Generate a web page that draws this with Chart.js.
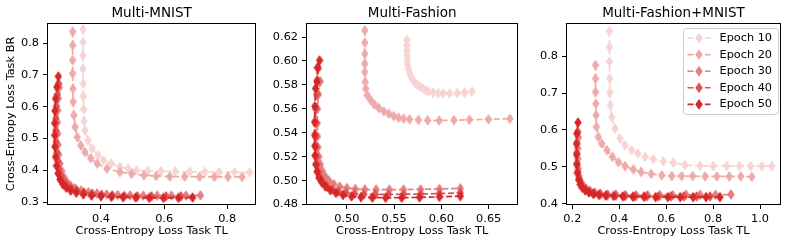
<!DOCTYPE html>
<html>
<head>
<meta charset="utf-8">
<script src="https://cdn.jsdelivr.net/npm/chart.js@4.4.1/dist/chart.umd.min.js"></script>
<style>
  body { margin: 0; background: #fff; }
  #wrap { position: relative; width: 789px; height: 245px; }
  canvas { position: absolute; top: 0; }
</style>
</head>
<body>
<div id="wrap">
  <canvas id="c1" width="262" height="245" style="left:0"></canvas>
  <canvas id="c2" width="262" height="245" style="left:262px"></canvas>
  <canvas id="c3" width="265" height="245" style="left:524px"></canvas>
</div>
<script>
const epochLabels = ['Epoch 10', 'Epoch 20', 'Epoch 30', 'Epoch 40', 'Epoch 50'];
const epochColors = ['#f7d3d3', '#efa9a9', '#e67d7e', '#de5253', '#d62728'];

// Multi-MNIST: [TL loss, BR loss]
const mnistE10 = [[0.343,0.843],[0.343,0.803],[0.343,0.761],[0.343,0.719],[0.344,0.672],[0.344,0.633],[0.345,0.591],[0.346,0.555],[0.349,0.526],[0.359,0.494],[0.372,0.468],[0.391,0.447],[0.408,0.431],[0.432,0.421],[0.460,0.410],[0.486,0.405],[0.512,0.400],[0.548,0.398],[0.590,0.397],[0.635,0.396],[0.681,0.395],[0.729,0.395],[0.774,0.394],[0.823,0.394],[0.871,0.393]];
const mnistE20 = [[0.310,0.836],[0.310,0.793],[0.310,0.746],[0.310,0.704],[0.311,0.656],[0.312,0.615],[0.314,0.573],[0.318,0.536],[0.325,0.504],[0.336,0.478],[0.349,0.457],[0.367,0.438],[0.388,0.421],[0.419,0.405],[0.460,0.394],[0.497,0.389],[0.536,0.384],[0.575,0.382],[0.618,0.380],[0.665,0.380],[0.712,0.379],[0.759,0.379],[0.802,0.379],[0.847,0.379]];
const mnistE30 = [[0.268,0.660],[0.265,0.625],[0.263,0.588],[0.262,0.551],[0.263,0.515],[0.264,0.480],[0.266,0.449],[0.270,0.421],[0.275,0.398],[0.282,0.379],[0.291,0.364],[0.303,0.352],[0.318,0.343],[0.337,0.336],[0.360,0.331],[0.387,0.327],[0.418,0.324],[0.453,0.322],[0.492,0.321],[0.534,0.320],[0.578,0.320],[0.623,0.320],[0.669,0.320],[0.715,0.321]];
const mnistE40 = [[0.266,0.672],[0.262,0.638],[0.259,0.601],[0.257,0.563],[0.257,0.525],[0.258,0.489],[0.260,0.456],[0.263,0.428],[0.267,0.403],[0.273,0.383],[0.281,0.367],[0.292,0.354],[0.306,0.344],[0.324,0.336],[0.346,0.330],[0.372,0.326],[0.402,0.323],[0.436,0.321],[0.474,0.319],[0.515,0.318],[0.560,0.318],[0.606,0.318],[0.653,0.318]];
const mnistE50 = [[0.265,0.695],[0.260,0.662],[0.256,0.625],[0.254,0.587],[0.253,0.548],[0.253,0.510],[0.254,0.474],[0.256,0.442],[0.259,0.414],[0.264,0.390],[0.270,0.371],[0.279,0.356],[0.290,0.345],[0.304,0.336],[0.322,0.329],[0.344,0.324],[0.370,0.320],[0.400,0.318],[0.433,0.316],[0.470,0.315],[0.510,0.314],[0.553,0.313],[0.598,0.313],[0.645,0.313],[0.690,0.314]];
const mnistXTicks = [0.4, 0.6, 0.8];
const mnistYTicks = [0.3, 0.4, 0.5, 0.6, 0.7, 0.8];

// Multi-Fashion
const fashionE10 = [[0.5635,0.6175],[0.5635,0.6130],[0.5635,0.6090],[0.5635,0.6050],[0.5638,0.6010],[0.5642,0.5970],[0.5650,0.5930],[0.5665,0.5895],[0.5682,0.5862],[0.5700,0.5838],[0.5722,0.5817],[0.5746,0.5800],[0.5775,0.5784],[0.5804,0.5770],[0.5832,0.5757],[0.5862,0.5746],[0.5914,0.5736],[0.5966,0.5731],[0.6018,0.5729],[0.6087,0.5729],[0.6167,0.5731],[0.6244,0.5736],[0.6324,0.5745]];
const fashionE20 = [[0.5190,0.6256],[0.5190,0.6152],[0.5190,0.6060],[0.5190,0.5977],[0.5190,0.5907],[0.5195,0.5824],[0.5200,0.5768],[0.5217,0.5713],[0.5253,0.5671],[0.5294,0.5634],[0.5339,0.5606],[0.5391,0.5579],[0.5444,0.5559],[0.5496,0.5539],[0.5548,0.5525],[0.5600,0.5517],[0.5663,0.5512],[0.5757,0.5507],[0.5854,0.5503],[0.5976,0.5502],[0.6133,0.5505],[0.6296,0.5508],[0.6498,0.5512],[0.6724,0.5517]];
const fashionE30 = [[0.4720,0.5830],[0.4700,0.5720],[0.4690,0.5600],[0.4688,0.5480],[0.4690,0.5370],[0.4695,0.5280],[0.4705,0.5200],[0.4720,0.5135],[0.4742,0.5080],[0.4772,0.5035],[0.4812,0.4998],[0.4862,0.4970],[0.4925,0.4950],[0.5000,0.4938],[0.5090,0.4930],[0.5190,0.4926],[0.5310,0.4924],[0.5450,0.4924],[0.5600,0.4925],[0.5780,0.4927],[0.5980,0.4930],[0.6200,0.4935]];
const fashionE40 = [[0.4700,0.5940],[0.4688,0.5840],[0.4680,0.5720],[0.4672,0.5600],[0.4670,0.5480],[0.4670,0.5370],[0.4673,0.5280],[0.4678,0.5200],[0.4688,0.5130],[0.4702,0.5070],[0.4722,0.5022],[0.4752,0.4982],[0.4792,0.4950],[0.4845,0.4925],[0.4910,0.4908],[0.4990,0.4897],[0.5080,0.4890],[0.5180,0.4886],[0.5300,0.4884],[0.5440,0.4884],[0.5600,0.4886],[0.5780,0.4888],[0.5980,0.4892],[0.6200,0.4897]];
const fashionE50 = [[0.4712,0.6005],[0.4690,0.5945],[0.4685,0.5825],[0.4670,0.5770],[0.4662,0.5620],[0.4660,0.5490],[0.4660,0.5380],[0.4662,0.5290],[0.4665,0.5210],[0.4672,0.5135],[0.4685,0.5075],[0.4705,0.5025],[0.4735,0.4985],[0.4775,0.4950],[0.4825,0.4920],[0.4885,0.4897],[0.4960,0.4880],[0.5050,0.4868],[0.5150,0.4862],[0.5270,0.4858],[0.5410,0.4856],[0.5580,0.4857],[0.5770,0.4860],[0.5980,0.4864],[0.6200,0.4870]];
const fashionXTicks = [0.50, 0.55, 0.60, 0.65];
const fashionYTicks = [0.48, 0.50, 0.52, 0.54, 0.56, 0.58, 0.60, 0.62];

// Multi-Fashion+MNIST
const fmE10 = [[0.358,0.868],[0.358,0.825],[0.358,0.785],[0.359,0.739],[0.360,0.701],[0.362,0.667],[0.368,0.635],[0.382,0.604],[0.403,0.576],[0.425,0.559],[0.453,0.545],[0.479,0.536],[0.510,0.527],[0.545,0.521],[0.588,0.515],[0.631,0.511],[0.680,0.505],[0.744,0.503],[0.801,0.502],[0.858,0.502],[0.912,0.502],[0.960,0.502],[1.007,0.502],[1.050,0.502]];
const fmE20 = [[0.299,0.776],[0.299,0.739],[0.299,0.703],[0.300,0.671],[0.301,0.640],[0.303,0.608],[0.311,0.581],[0.325,0.563],[0.347,0.545],[0.371,0.527],[0.396,0.513],[0.425,0.502],[0.460,0.493],[0.493,0.486],[0.536,0.481],[0.581,0.477],[0.624,0.475],[0.666,0.475],[0.713,0.475],[0.766,0.474],[0.816,0.474],[0.869,0.474],[0.918,0.474],[0.965,0.473]];
const fmE30 = [[0.226,0.580],[0.223,0.550],[0.223,0.522],[0.225,0.496],[0.229,0.475],[0.236,0.460],[0.246,0.449],[0.259,0.441],[0.275,0.435],[0.295,0.430],[0.320,0.427],[0.350,0.425],[0.386,0.424],[0.427,0.423],[0.472,0.423],[0.521,0.423],[0.573,0.423],[0.628,0.423],[0.685,0.424],[0.745,0.424],[0.810,0.424],[0.876,0.425]];
const fmE40 = [[0.223,0.595],[0.219,0.565],[0.219,0.537],[0.220,0.510],[0.223,0.487],[0.228,0.468],[0.235,0.455],[0.245,0.445],[0.258,0.438],[0.274,0.432],[0.294,0.428],[0.319,0.425],[0.349,0.423],[0.384,0.422],[0.424,0.421],[0.468,0.420],[0.516,0.420],[0.567,0.420],[0.620,0.420],[0.675,0.420],[0.730,0.420],[0.787,0.420]];
const fmE50 = [[0.224,0.620],[0.219,0.590],[0.218,0.562],[0.218,0.533],[0.219,0.506],[0.222,0.483],[0.227,0.465],[0.234,0.452],[0.243,0.443],[0.255,0.436],[0.270,0.431],[0.289,0.427],[0.313,0.424],[0.342,0.422],[0.376,0.421],[0.415,0.420],[0.458,0.419],[0.505,0.419],[0.555,0.418],[0.607,0.418],[0.660,0.418],[0.715,0.418],[0.770,0.418],[0.829,0.418]];
const fmXTicks = [0.2, 0.4, 0.6, 0.8, 1.0];
const fmYTicks = [0.4, 0.5, 0.6, 0.7, 0.8];

Chart.defaults.font.family = '"DejaVu Sans", sans-serif';
Chart.defaults.color = '#000';
Chart.defaults.animation = false;

// thin diamond marker like matplotlib 'd'
function diamond(color) {
  const c = document.createElement('canvas');
  c.width = 8; c.height = 11;
  const g = c.getContext('2d');
  g.fillStyle = color;
  g.strokeStyle = color;
  g.lineWidth = 1;
  g.beginPath();
  g.moveTo(4, 0.8); g.lineTo(7.2, 5.5); g.lineTo(4, 10.2); g.lineTo(0.8, 5.5);
  g.closePath();
  g.fill();
  g.stroke();
  return c;
}
const markers = epochColors.map(diamond);

const frame = {
  id: 'frame',
  afterDatasetsDraw(chart) {
    const { ctx, chartArea: a } = chart;
    ctx.save();
    ctx.strokeStyle = '#000';
    ctx.lineWidth = 1;
    ctx.strokeRect(Math.round(a.left) + 0.5, Math.round(a.top) + 0.5,
      Math.round(a.right - a.left) - 1, Math.round(a.bottom - a.top) - 1);
    ctx.restore();
  }
};

const legendBox = {
  id: 'legendBox',
  afterDraw(chart) {
    const { ctx, chartArea: a } = chart;
    const x0 = a.right - 97.5, y0 = a.top + 5.5, w = 95, h = 86;
    ctx.save();
    ctx.fillStyle = 'rgba(255,255,255,0.8)';
    ctx.strokeStyle = '#cccccc';
    ctx.lineWidth = 1;
    ctx.beginPath();
    ctx.roundRect(x0, y0, w, h, 3);
    ctx.fill();
    ctx.stroke();
    epochLabels.forEach((lab, i) => {
      const y = y0 + 9.5 + i * 16.6;
      ctx.strokeStyle = epochColors[i];
      ctx.lineWidth = 1.6;
      ctx.setLineDash([6, 2.7]);
      ctx.beginPath();
      ctx.moveTo(x0 + 4, y);
      ctx.lineTo(x0 + 27, y);
      ctx.stroke();
      ctx.setLineDash([]);
      ctx.drawImage(markers[i], x0 + 15.5 - 4, y - 5.5);
      ctx.fillStyle = '#000';
      ctx.font = '11.3px "DejaVu Sans"';
      ctx.textBaseline = 'middle';
      ctx.fillText(lab, x0 + 36, y);
    });
    ctx.restore();
  }
};

function makeChart(id, cfg) {
  const datasets = cfg.series.map((pts, i) => ({
    label: epochLabels[i],
    data: pts.map(p => ({ x: p[0], y: p[1] })),
    showLine: true,
    borderColor: epochColors[i],
    backgroundColor: epochColors[i],
    borderWidth: 1.7,
    borderDash: [6, 2.7],
    pointStyle: markers[i],
    pointRadius: 4,
    order: 5 - i
  }));
  return new Chart(document.getElementById(id), {
    type: 'scatter',
    data: { datasets },
    options: {
      responsive: false,
      devicePixelRatio: 1,
      layout: { padding: { left: 0, right: cfg.padRight, top: 0, bottom: 0 } },
      plugins: {
        legend: { display: false },
        tooltip: { enabled: false },
        title: {
          display: true, text: cfg.title, fullSize: false, color: '#000',
          font: { size: 13.5, weight: 'normal' },
          padding: { top: 5, bottom: 1.8 }
        }
      },
      scales: {
        x: {
          type: 'linear', min: cfg.xMin, max: cfg.xMax,
          afterBuildTicks: s => { s.ticks = cfg.xTicks.map(v => ({ value: v })); },
          afterFit: s => { s.height = 40; },
          grid: { drawOnChartArea: false, tickLength: 4, color: '#000', lineWidth: 1 },
          border: { display: false },
          ticks: { autoSkip: false, maxRotation: 0, padding: 3, font: { size: 11.3 },
                   callback: v => v.toFixed(cfg.xDigits) },
          title: { display: true, text: 'Cross-Entropy Loss Task TL', font: { size: 11.3 },
                   padding: { top: 0, bottom: 7 } }
        },
        y: {
          type: 'linear', min: cfg.yMin, max: cfg.yMax,
          afterBuildTicks: s => { s.ticks = cfg.yTicks.map(v => ({ value: v })); },
          afterFit: s => { s.width = cfg.yWidth; },
          grid: { drawOnChartArea: false, tickLength: 4, color: '#000', lineWidth: 1 },
          border: { display: false },
          ticks: { autoSkip: false, padding: 4, font: { size: 11.3 },
                   callback: v => v.toFixed(cfg.yDigits) },
          title: { display: !!cfg.yTitle, text: cfg.yTitle || '', font: { size: 11.3 },
                   padding: { top: 4, bottom: 0 } }
        }
      }
    },
    plugins: [frame].concat(cfg.extra || [])
  });
}

makeChart('c1', {
  title: 'Multi-MNIST',
  series: [mnistE10, mnistE20, mnistE30, mnistE40, mnistE50],
  xMin: 0.229, xMax: 0.892, yMin: 0.2906, yMax: 0.863,
  xTicks: mnistXTicks, yTicks: mnistYTicks, xDigits: 1, yDigits: 1,
  yTitle: 'Cross-Entropy Loss Task BR', yWidth: 47, padRight: 2
});
makeChart('c2', {
  title: 'Multi-Fashion',
  series: [fashionE10, fashionE20, fashionE30, fashionE40, fashionE50],
  xMin: 0.4569, xMax: 0.6813, yMin: 0.4796, yMax: 0.6317,
  xTicks: fashionXTicks, yTicks: fashionYTicks, xDigits: 2, yDigits: 2,
  yWidth: 44, padRight: 3
});
makeChart('c3', {
  title: 'Multi-Fashion+MNIST',
  series: [fmE10, fmE20, fmE30, fmE40, fmE50],
  xMin: 0.173, xMax: 1.0895, yMin: 0.3965, yMax: 0.890,
  xTicks: fmXTicks, yTicks: fmYTicks, xDigits: 1, yDigits: 1,
  yWidth: 42, padRight: 8, extra: [legendBox]
});
</script>
</body>
</html>
